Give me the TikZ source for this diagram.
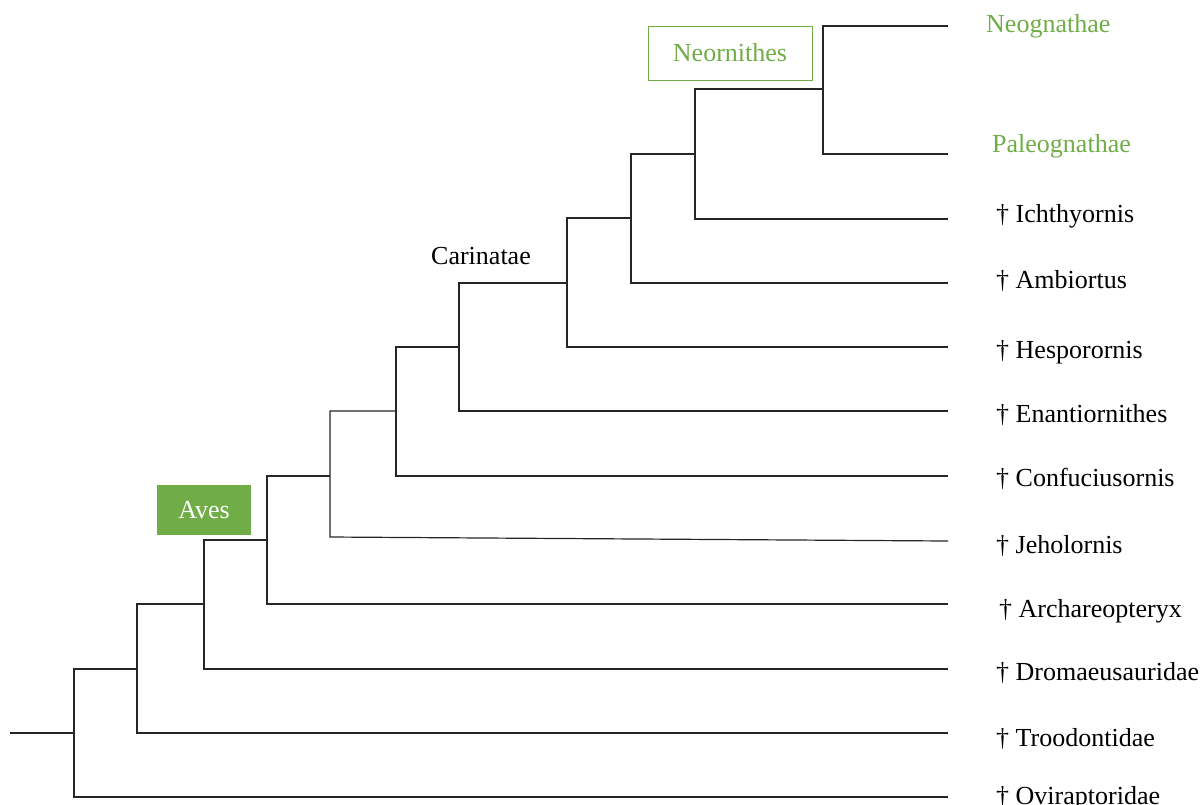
\documentclass[tikz,border=0pt]{standalone}
\usepackage{fontspec}
\setmainfont{Liberation Serif}
\definecolor{offgreen}{HTML}{70AD47}
\tikzset{
  branch/.style={line width=1.2pt, black!85},
  tiplabel/.style={anchor=base west, inner sep=0pt, font=\fontsize{26}{31}\selectfont},
  greenlabel/.style={tiplabel, text=offgreen},
}
\begin{document}
\begin{tikzpicture}[x=1pt,y=-1pt]
\useasboundingbox (0,0) rectangle (1201,804);
% tips
\coordinate (t1) at (948,26);
\coordinate (t2) at (948,154);
\coordinate (t3) at (948,219);
\coordinate (t4) at (948,283);
\coordinate (t5) at (948,347);
\coordinate (t6) at (948,411);
\coordinate (t7) at (948,476);
\coordinate (t8) at (948,541);
\coordinate (t9) at (948,604);
\coordinate (t10) at (948,669);
\coordinate (t11) at (948,733);
\coordinate (t12) at (948,797);
% internal nodes
\coordinate (n1) at (823,89);
\coordinate (n2) at (695,154);
\coordinate (n3) at (631,218);
\coordinate (n4) at (567,283);
\coordinate (n5) at (459,347);
\coordinate (n6) at (396,411);
\coordinate (n7) at (330,476);
\coordinate (j) at (330,537);
\coordinate (n8) at (267,540);
\coordinate (n9) at (204,604);
\coordinate (n10) at (137,669);
\coordinate (n11) at (74,733);
\coordinate (root) at (10,733);
% branches
\draw[branch] (t1) -| (n1) |- (t2);
\draw[branch] (n1) -| (n2) |- (t3);
\draw[branch] (n2) -| (n3) |- (t4);
\draw[branch] (n3) -| (n4) |- (t5);
\draw[branch] (n4) -| (n5) |- (t6);
\draw[branch] (n5) -| (n6) |- (t7);
\draw[branch] (n6) -| (n7) -- (j) -- (t8);
\draw[branch] (n7) -| (n8) |- (t9);
\draw[branch] (n8) -| (n9) |- (t10);
\draw[branch] (n9) -| (n10) |- (t11);
\draw[branch] (n10) -| (n11) |- (t12);
\draw[branch] (root) -- (n11);
% tip labels
\node[greenlabel] (l1) at (986,32) {Neognathae};
\node[greenlabel] (l2) at (992,152) {Paleognathae};
\node[tiplabel] (l3) at (996,222) {† Ichthyornis};
\node[tiplabel] (l4) at (996,288) {† Ambiortus};
\node[tiplabel] (l5) at (996,358) {† Hesporornis};
\node[tiplabel] (l6) at (996,422) {† Enantiornithes};
\node[tiplabel] (l7) at (996,486) {† Confuciusornis};
\node[tiplabel] (l8) at (996,553) {† Jeholornis};
\node[tiplabel] (l9) at (999,617) {† Archareopteryx};
\node[tiplabel] (l10) at (996,680) {† Dromaeusauridae};
\node[tiplabel] (l11) at (996,746) {† Troodontidae};
\node[tiplabel] (l12) at (996,804) {† Oviraptoridae};
% clade labels
\node[draw=offgreen, line width=1pt, minimum width=164pt, minimum height=54pt, text=offgreen, font=\fontsize{26}{31}\selectfont] (neo) at (730,53) {Neornithes};
\node[fill=offgreen, minimum width=94pt, minimum height=50pt, text=white, font=\fontsize{26}{31}\selectfont] (aves) at (204,510) {Aves};
\node[font=\fontsize{26}{31}\selectfont] (car) at (481,256) {Carinatae};
\end{tikzpicture}
\end{document}
